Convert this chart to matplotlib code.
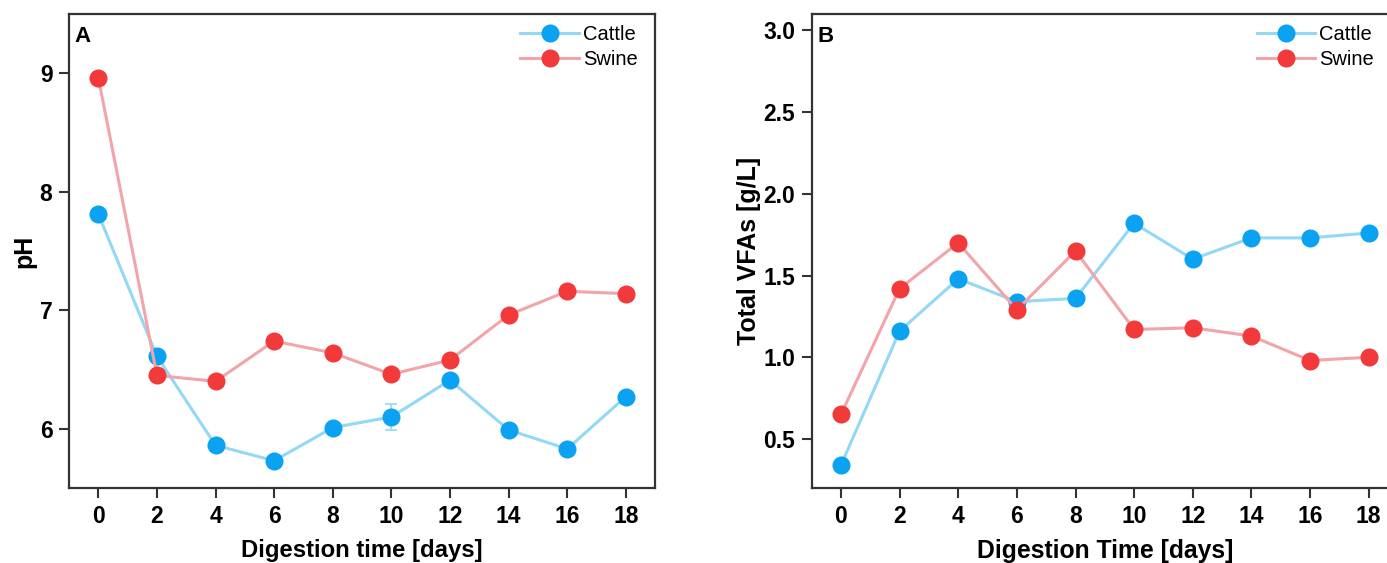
import matplotlib
matplotlib.use("Agg")
import matplotlib.pyplot as plt
from matplotlib import font_manager

days = [0, 2, 4, 6, 8, 10, 12, 14, 16, 18]

# pH over digestion time
ph_cattle = [7.81, 6.61, 5.86, 5.73, 6.01, 6.10, 6.41, 5.99, 5.83, 6.27]
ph_cattle_err = [0.03, 0.03, 0.03, 0.03, 0.03, 0.11, 0.03, 0.03, 0.03, 0.03]
ph_swine = [8.96, 6.45, 6.40, 6.74, 6.64, 6.46, 6.58, 6.96, 7.16, 7.14]

# Total volatile fatty acids over digestion time
vfa_cattle = [0.34, 1.16, 1.48, 1.34, 1.36, 1.82, 1.60, 1.73, 1.73, 1.76]
vfa_swine = [0.65, 1.42, 1.70, 1.29, 1.65, 1.17, 1.18, 1.13, 0.98, 1.00]

series_names = ["Cattle", "Swine"]
xtick_labels = [str(d) for d in days]

names = {f.name for f in font_manager.fontManager.ttflist}
tick_family = "Liberation Sans Narrow" if "Liberation Sans Narrow" in names else "Liberation Sans"
plt.rcParams["font.family"] = ["Liberation Sans", "DejaVu Sans"]

CATTLE_MK, CATTLE_LN = "#0BA2F2", "#93D8F5"
SWINE_MK, SWINE_LN = "#F23A3A", "#F2A4AA"
TICK_FS = 16.5

fig = plt.figure(figsize=(13.87, 5.63), dpi=100)
axA = fig.add_axes([0.0498, 0.1332, 0.4225, 0.842])
axB = fig.add_axes([0.5852, 0.1332, 0.4227, 0.842])


def style_ticklabels(ax):
    for lab in ax.get_xticklabels() + ax.get_yticklabels():
        lab.set_fontfamily(tick_family)
        lab.set_fontweight("bold")
        lab.set_fontsize(TICK_FS)


def draw(ax, cattle, swine, cattle_err=None, leg_x=0.968):
    kw = dict(marker="o", markersize=13, linewidth=2.2, markeredgewidth=0)
    if cattle_err is not None:
        ax.errorbar(days, cattle, yerr=cattle_err, color=CATTLE_LN, ecolor=CATTLE_LN,
                    elinewidth=1.2, capsize=4, capthick=1.2, zorder=2, fmt="none")
    ax.plot(days, cattle, color=CATTLE_LN, markerfacecolor=CATTLE_MK,
            label=series_names[0], zorder=3, **kw)
    ax.plot(days, swine, color=SWINE_LN, markerfacecolor=SWINE_MK,
            label=series_names[1], zorder=3, **kw)
    ax.set_xlim(-1, 19)
    ax.set_xticks(days)
    ax.set_xticklabels(xtick_labels)
    ax.tick_params(direction="out", length=7, width=1.5, color="#333333", pad=5)
    for s in ax.spines.values():
        s.set_linewidth(1.6)
        s.set_color("#333333")
    ax.legend(loc="upper right", bbox_to_anchor=(leg_x, 0.976), frameon=False,
              fontsize=14.5, handlelength=2.9, handletextpad=0.2, labelspacing=0.3,
              borderaxespad=0.0, borderpad=0.0)


draw(axA, ph_cattle, ph_swine, ph_cattle_err, leg_x=0.970)
axA.set_ylim(5.5, 9.5)
axA.set_yticks([6, 7, 8, 9])
style_ticklabels(axA)
axA.set_ylabel("pH", fontsize=18, fontweight="bold")
axA.yaxis.set_label_coords(-0.055, 0.5)
axA.set_xlabel("Digestion time [days]", fontsize=17.2, fontweight="bold", labelpad=8)
axA.text(0.01, 0.975, "A", transform=axA.transAxes, fontsize=16, fontweight="bold",
         va="top", ha="left")

draw(axB, vfa_cattle, vfa_swine, leg_x=0.959)
axB.set_ylim(0.2, 3.1)
axB.set_yticks([0.5, 1.0, 1.5, 2.0, 2.5, 3.0])
axB.set_yticklabels(["0.5", "1.0", "1.5", "2.0", "2.5", "3.0"])
style_ticklabels(axB)
axB.set_ylabel("Total VFAs [g/L]", fontsize=18, fontweight="bold")
axB.yaxis.set_label_coords(-0.087, 0.5)
axB.set_xlabel("Digestion Time [days]", fontsize=17.8, fontweight="bold", labelpad=8)
axB.text(0.01, 0.975, "B", transform=axB.transAxes, fontsize=16, fontweight="bold",
         va="top", ha="left")

fig.savefig("out.png", dpi=100)
